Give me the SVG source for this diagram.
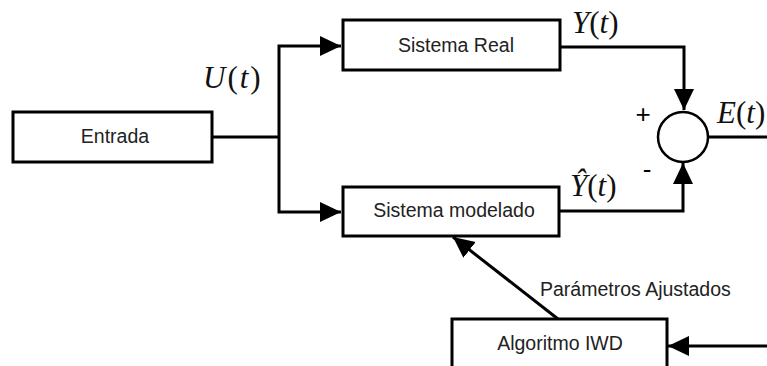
<svg xmlns="http://www.w3.org/2000/svg" width="767" height="366" viewBox="0 0 767 366">
<style>
.box{fill:#fff;stroke:#000;stroke-width:3}
.lbl{font-family:"Liberation Sans",Arial,sans-serif;font-size:19.5px;fill:#222;text-anchor:middle}
.math{font-family:"Liberation Serif","Times New Roman",serif;font-size:31px;fill:#111}
.it{font-style:italic}
.wire{fill:none;stroke:#000;stroke-width:3}
.sign{font-family:"Liberation Sans",Arial,sans-serif;font-size:26px;fill:#000;text-anchor:middle}
</style>
<defs>
<marker id="ah" markerUnits="userSpaceOnUse" markerWidth="22" markerHeight="22" refX="21" refY="10" orient="auto" viewBox="0 0 22 20">
<path d="M0,0 L21,10 L0,20 Z" fill="#000"/>
</marker>
</defs>
<rect width="767" height="366" fill="#fff"/>
<g id="connectors">
<polyline class="wire" points="212,137 279,137"/>
<polyline class="wire" points="279,137 279,46 341,46" marker-end="url(#ah)"/>
<polyline class="wire" points="279,137 279,212 341,212" marker-end="url(#ah)"/>
<polyline class="wire" points="560,47 684,47 684,110" marker-end="url(#ah)"/>
<polyline class="wire" points="559,211 683,211 683,163" marker-end="url(#ah)"/>
<polyline class="wire" points="708,137 767,137"/>
<polyline class="wire" points="767,346 668,346" marker-end="url(#ah)"/>
<polyline class="wire" points="558,319 453,237" marker-end="url(#ah)"/>
</g>
<g id="entrada">
<rect class="box" x="13" y="112" width="199" height="50"/>
<text class="lbl" x="115" y="143">Entrada</text>
</g>
<g id="sistema-real">
<rect class="box" x="343" y="20" width="217" height="50"/>
<text class="lbl" x="456" y="52">Sistema Real</text>
</g>
<g id="sistema-modelado">
<rect class="box" x="343" y="187" width="216" height="49"/>
<text class="lbl" x="454" y="217">Sistema modelado</text>
</g>
<g id="algoritmo-iwd">
<rect class="box" x="452" y="319" width="215" height="60"/>
<text class="lbl" x="560" y="350">Algoritmo IWD</text>
</g>
<g id="sumador">
<circle cx="683" cy="137" r="25" fill="#fff" stroke="#000" stroke-width="2.5"/>
<text class="sign" x="643" y="123">+</text>
<text class="sign" x="647" y="178">-</text>
</g>
<g id="labels">
<text class="math" x="203" y="88" letter-spacing="2"><tspan class="it">U</tspan>(<tspan class="it">t</tspan>)</text>
<text class="math" x="572" y="33"><tspan class="it">Y</tspan>(<tspan class="it">t</tspan>)</text>
<text class="math" x="570" y="196"><tspan class="it">Ŷ</tspan>(<tspan class="it">t</tspan>)</text>
<text class="math" x="717" y="123"><tspan class="it">E</tspan>(<tspan class="it">t</tspan>)</text>
<text class="lbl" x="540" y="296" style="text-anchor:start">Parámetros Ajustados</text>
</g>
</svg>
